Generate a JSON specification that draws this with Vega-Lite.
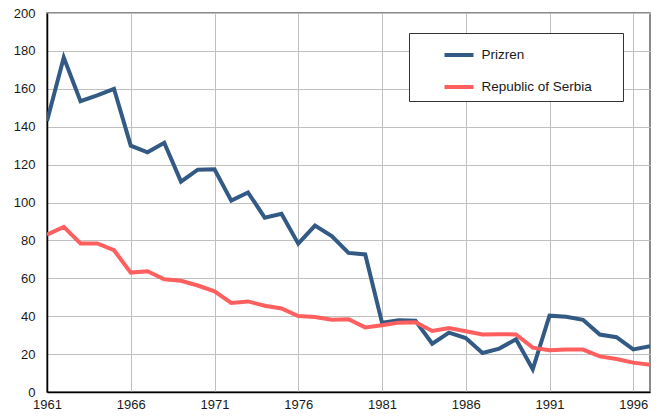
{
  "$schema": "https://vega.github.io/schema/vega-lite/v6.json",
  "width": 603,
  "height": 379,
  "autosize": {"type": "none"},
  "padding": {"left": 47, "top": 13, "right": 11, "bottom": 28},
  "background": "white",
  "config": {
    "font": "Liberation Sans",
    "view": {"stroke": "#666666", "strokeWidth": 1.5}
  },
  "data": {
    "values": [
      {"year": 1961, "series": "Prizren", "value": 143},
      {"year": 1962, "series": "Prizren", "value": 176.5},
      {"year": 1963, "series": "Prizren", "value": 153.5},
      {"year": 1964, "series": "Prizren", "value": 156.5},
      {"year": 1965, "series": "Prizren", "value": 160},
      {"year": 1966, "series": "Prizren", "value": 130},
      {"year": 1967, "series": "Prizren", "value": 126.5},
      {"year": 1968, "series": "Prizren", "value": 131.5},
      {"year": 1969, "series": "Prizren", "value": 111},
      {"year": 1970, "series": "Prizren", "value": 117.3},
      {"year": 1971, "series": "Prizren", "value": 117.5},
      {"year": 1972, "series": "Prizren", "value": 101},
      {"year": 1973, "series": "Prizren", "value": 105.3},
      {"year": 1974, "series": "Prizren", "value": 92},
      {"year": 1975, "series": "Prizren", "value": 94},
      {"year": 1976, "series": "Prizren", "value": 78.3},
      {"year": 1977, "series": "Prizren", "value": 87.8},
      {"year": 1978, "series": "Prizren", "value": 82.3},
      {"year": 1979, "series": "Prizren", "value": 73.4},
      {"year": 1980, "series": "Prizren", "value": 72.6},
      {"year": 1981, "series": "Prizren", "value": 36.6},
      {"year": 1982, "series": "Prizren", "value": 37.8},
      {"year": 1983, "series": "Prizren", "value": 37.6},
      {"year": 1984, "series": "Prizren", "value": 25.5},
      {"year": 1985, "series": "Prizren", "value": 31.3},
      {"year": 1986, "series": "Prizren", "value": 28.5},
      {"year": 1987, "series": "Prizren", "value": 20.6},
      {"year": 1988, "series": "Prizren", "value": 22.9},
      {"year": 1989, "series": "Prizren", "value": 27.8},
      {"year": 1990, "series": "Prizren", "value": 12},
      {"year": 1991, "series": "Prizren", "value": 40.3},
      {"year": 1992, "series": "Prizren", "value": 39.7},
      {"year": 1993, "series": "Prizren", "value": 38.1},
      {"year": 1994, "series": "Prizren", "value": 30.3},
      {"year": 1995, "series": "Prizren", "value": 28.9},
      {"year": 1996, "series": "Prizren", "value": 22.5},
      {"year": 1997, "series": "Prizren", "value": 24.1},
      {"year": 1961, "series": "Republic of Serbia", "value": 83},
      {"year": 1962, "series": "Republic of Serbia", "value": 87.1},
      {"year": 1963, "series": "Republic of Serbia", "value": 78.4},
      {"year": 1964, "series": "Republic of Serbia", "value": 78.4},
      {"year": 1965, "series": "Republic of Serbia", "value": 74.8},
      {"year": 1966, "series": "Republic of Serbia", "value": 63},
      {"year": 1967, "series": "Republic of Serbia", "value": 63.7},
      {"year": 1968, "series": "Republic of Serbia", "value": 59.5},
      {"year": 1969, "series": "Republic of Serbia", "value": 58.7},
      {"year": 1970, "series": "Republic of Serbia", "value": 56.2},
      {"year": 1971, "series": "Republic of Serbia", "value": 53.1},
      {"year": 1972, "series": "Republic of Serbia", "value": 47},
      {"year": 1973, "series": "Republic of Serbia", "value": 47.8},
      {"year": 1974, "series": "Republic of Serbia", "value": 45.5},
      {"year": 1975, "series": "Republic of Serbia", "value": 44.1},
      {"year": 1976, "series": "Republic of Serbia", "value": 40.1},
      {"year": 1977, "series": "Republic of Serbia", "value": 39.6},
      {"year": 1978, "series": "Republic of Serbia", "value": 38.1},
      {"year": 1979, "series": "Republic of Serbia", "value": 38.4},
      {"year": 1980, "series": "Republic of Serbia", "value": 34.1},
      {"year": 1981, "series": "Republic of Serbia", "value": 35.2},
      {"year": 1982, "series": "Republic of Serbia", "value": 36.6},
      {"year": 1983, "series": "Republic of Serbia", "value": 36.8},
      {"year": 1984, "series": "Republic of Serbia", "value": 32.2},
      {"year": 1985, "series": "Republic of Serbia", "value": 33.8},
      {"year": 1986, "series": "Republic of Serbia", "value": 32.1},
      {"year": 1987, "series": "Republic of Serbia", "value": 30.4},
      {"year": 1988, "series": "Republic of Serbia", "value": 30.5},
      {"year": 1989, "series": "Republic of Serbia", "value": 30.4},
      {"year": 1990, "series": "Republic of Serbia", "value": 23.4},
      {"year": 1991, "series": "Republic of Serbia", "value": 22},
      {"year": 1992, "series": "Republic of Serbia", "value": 22.4},
      {"year": 1993, "series": "Republic of Serbia", "value": 22.4},
      {"year": 1994, "series": "Republic of Serbia", "value": 18.8},
      {"year": 1995, "series": "Republic of Serbia", "value": 17.4},
      {"year": 1996, "series": "Republic of Serbia", "value": 15.5},
      {"year": 1997, "series": "Republic of Serbia", "value": 14.4}
    ]
  },
  "mark": {"type": "line", "strokeWidth": 4, "strokeJoin": "miter", "strokeCap": "butt", "clip": true},
  "encoding": {
    "x": {
      "field": "year",
      "type": "quantitative",
      "scale": {"domain": [1961, 1997], "nice": false, "zero": false},
      "axis": {
        "title": null,
        "values": [1961, 1966, 1971, 1976, 1981, 1986, 1991, 1996],
        "format": "d",
        "labelFlush": false,
        "labelFontSize": 13,
        "labelColor": "#1a1a1a",
        "labelPadding": 6,
        "ticks": false,
        "domainColor": "#000000",
        "domainWidth": 1.5,
        "gridColor": "#c0c0c0",
        "gridWidth": 1,
        "gridOpacity": 1,
        "labelOverlap": false
      }
    },
    "y": {
      "field": "value",
      "type": "quantitative",
      "scale": {"domain": [0, 200], "nice": false},
      "axis": {
        "title": null,
        "values": [0, 20, 40, 60, 80, 100, 120, 140, 160, 180, 200],
        "labelFontSize": 13,
        "labelColor": "#1a1a1a",
        "labelPadding": 12,
        "ticks": false,
        "domainColor": "#000000",
        "domainWidth": 1.5,
        "gridColor": "#c0c0c0",
        "gridWidth": 1,
        "gridOpacity": 1,
        "labelOverlap": false
      }
    },
    "color": {
      "field": "series",
      "type": "nominal",
      "scale": {"domain": ["Prizren", "Republic of Serbia"], "range": ["#325a84", "#ff5f5f"]},
      "legend": {
        "title": " ",
        "titleOrient": "right",
        "titlePadding": 26,
        "titleFontSize": 13,
        "orient": "none",
        "legendX": 362,
        "legendY": 20,
        "direction": "vertical",
        "padding": 5.5,
        "rowPadding": 7,
        "symbolType": "stroke",
        "symbolSize": 841,
        "symbolStrokeWidth": 4,
        "symbolOffset": 28,
        "labelOffset": 6,
        "labelFontSize": 13.5,
        "labelColor": "#1a1a1a",
        "strokeColor": "#333333",
        "fillColor": "white"
      }
    }
  }
}
